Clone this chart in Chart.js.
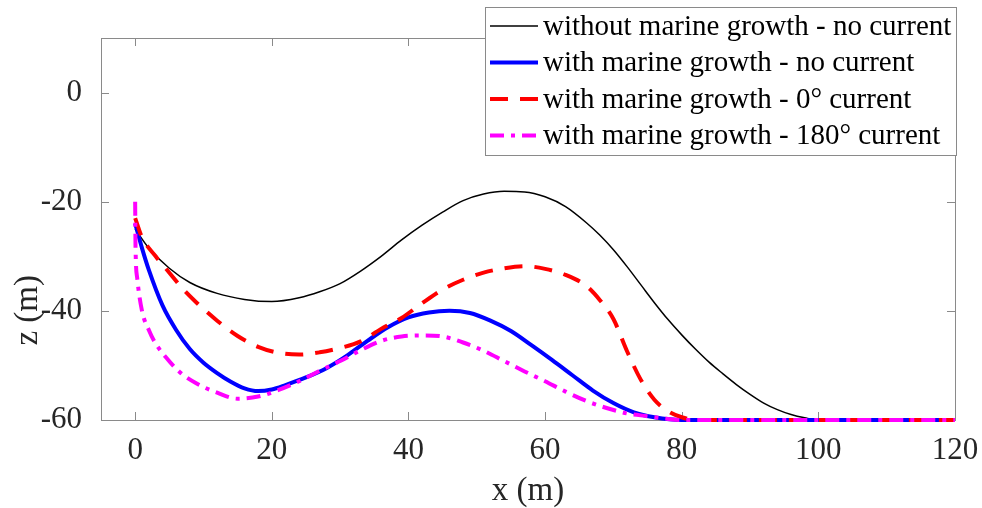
<!DOCTYPE html>
<html>
<head>
<meta charset="utf-8">
<script src="https://cdn.jsdelivr.net/npm/chart.js@4"></script>
<style>
  html, body { margin: 0; padding: 0; background: #fff; }
</style>
</head>
<body>
<canvas id="chart" width="982" height="508"></canvas>
<script>
// axis ticks
const xTicks = [0, 20, 40, 60, 80, 100, 120];
const zTicks = [-60, -40, -20, 0];

// without marine growth - no current
const noGrowthX = [0, 2, 5, 8, 12, 16, 20, 24, 27, 30, 33, 36, 39, 42, 45, 48, 51, 54, 57, 60, 63, 66, 68, 70, 72, 74, 76, 78, 80, 82, 84, 86, 88, 90, 92, 94, 96, 98, 100, 120];
const noGrowthZ = [-25, -28.5, -32.2, -34.8, -36.8, -37.9, -38.3, -37.6, -36.5, -35, -32.7, -30, -27, -24.3, -21.9, -19.8, -18.6, -18.1, -18.2, -19.1, -20.9, -23.8, -26.1, -28.8, -31.9, -35.2, -38.5, -41.6, -44.4, -47, -49.4, -51.5, -53.5, -55.3, -56.9, -58.1, -59, -59.6, -60, -60];

// with marine growth - no current
const growthX = [0, 1, 2, 4, 6, 8, 10, 12, 14, 16, 18, 20, 22, 25, 28, 31, 34, 37, 40, 43, 46, 49, 52, 55, 58, 61, 64, 67, 70, 73, 76, 80, 120];
const growthZ = [-24, -28.5, -32.5, -39, -43.5, -47, -49.5, -51.4, -53, -54.2, -54.7, -54.4, -53.6, -52.2, -50.5, -48.2, -45.5, -43, -41.2, -40.3, -40, -40.4, -41.8, -43.7, -46.3, -49, -51.8, -54.6, -56.9, -58.6, -59.5, -60, -60];

// with marine growth - 0 deg current
const current0X = [0, 1, 3, 5, 7, 9, 12, 15, 18, 21, 24, 27, 30, 33, 36, 39, 42, 45, 48, 51, 54, 57, 60, 63, 66, 68, 70, 72, 74, 76, 78, 80, 82, 120];
const current0Z = [-23, -26.5, -30, -33, -36, -38.5, -41.8, -44.6, -46.6, -47.7, -48, -47.6, -46.8, -45.6, -43.3, -41.3, -38.6, -36.1, -34.3, -33, -32.2, -31.8, -32.3, -33.4, -35.4, -38, -41.5, -47.4, -52.6, -56.3, -58.4, -59.5, -60, -60];

// with marine growth - 180 deg current
const current180X = [0, 0.05, 0.3, 1, 2, 3, 4.5, 6.5, 9, 12, 15, 18, 21, 24, 27, 30, 33, 36, 39, 42, 45, 48, 51, 54, 57, 60, 63, 66, 69, 72, 75, 78, 80, 120];
const current180Z = [-20, -28, -34, -40, -43.5, -46, -48.5, -51.2, -53.3, -55, -56.1, -55.7, -54.5, -52.9, -51, -49.2, -47.2, -45.5, -44.7, -44.5, -44.7, -45.8, -47.3, -49.2, -51.1, -52.9, -54.8, -56.5, -57.8, -58.8, -59.3, -59.8, -60, -60];

const zip = (xs, zs) => xs.map((x, i) => ({ x: x, y: zs[i] }));

const serif = '"Liberation Serif", "Times New Roman", serif';
const textColor = '#262626';
const boxColor = '#8a8a8a';

// MATLAB style box with inward ticks, plus the z label
const axesBox = {
    id: 'axesBox',
    beforeDatasetsDraw(chart) {
        const { ctx, chartArea: a, scales } = chart;
        ctx.save();
        ctx.strokeStyle = boxColor;
        ctx.lineWidth = 1;
        ctx.strokeRect(a.left + 0.5, a.top + 0.5, a.right - a.left, a.bottom - a.top);
        ctx.beginPath();
        xTicks.forEach(v => {
            const px = Math.round(scales.x.getPixelForValue(v)) + 0.5;
            ctx.moveTo(px, a.bottom); ctx.lineTo(px, a.bottom - 8);
            ctx.moveTo(px, a.top); ctx.lineTo(px, a.top + 8);
        });
        zTicks.forEach(v => {
            const py = Math.round(scales.y.getPixelForValue(v)) + 0.5;
            ctx.moveTo(a.left, py); ctx.lineTo(a.left + 8, py);
            ctx.moveTo(a.right, py); ctx.lineTo(a.right - 8, py);
        });
        ctx.stroke();

        // y axis title sits a bit below the middle in the original
        ctx.translate(28, scales.y.getPixelForValue(-30) + 54);
        ctx.rotate(-Math.PI / 2);
        ctx.font = '33px ' + serif;
        ctx.fillStyle = textColor;
        ctx.textAlign = 'center';
        ctx.textBaseline = 'middle';
        ctx.fillText('z (m)', 0, 0);
        ctx.restore();
    }
};

// legend box in the top right corner, drawn over the axes
const legendBox = {
    id: 'legendBox',
    afterDraw(chart) {
        const { ctx, chartArea: a } = chart;
        const sets = chart.data.datasets;
        const x0 = 485, y0 = 7, w = a.right + 1 - x0, h = 148;
        ctx.save();
        ctx.fillStyle = '#fff';
        ctx.fillRect(x0, y0, w, h);
        ctx.strokeStyle = boxColor;
        ctx.lineWidth = 1;
        ctx.strokeRect(x0 + 0.5, y0 + 0.5, w, h);
        ctx.font = '29px ' + serif;
        ctx.textBaseline = 'middle';
        ctx.fillStyle = '#000';
        sets.forEach((ds, i) => {
            const cy = 26 + i * 36.5;
            ctx.beginPath();
            ctx.strokeStyle = ds.borderColor;
            ctx.lineWidth = ds.borderWidth;
            ctx.setLineDash(ds.borderDash || []);
            ctx.moveTo(490, cy);
            ctx.lineTo(538, cy);
            ctx.stroke();
            ctx.setLineDash([]);
            ctx.fillText(ds.label, 543, cy + 1);
        });
        ctx.restore();
    }
};

const lineOpts = { showLine: true, pointRadius: 0, cubicInterpolationMode: 'monotone', fill: false, clip: false };

new Chart(document.getElementById('chart'), {
    type: 'scatter',
    data: {
        datasets: [
            { label: 'without marine growth - no current', data: zip(noGrowthX, noGrowthZ),
              borderColor: '#000000', borderWidth: 1.5, order: 4, ...lineOpts },
            { label: 'with marine growth - no current', data: zip(growthX, growthZ),
              borderColor: '#0000ff', borderWidth: 4, order: 3, ...lineOpts },
            { label: 'with marine growth - 0° current', data: zip(current0X, current0Z),
              borderColor: '#ff0000', borderWidth: 4, borderDash: [18, 12], order: 2, ...lineOpts },
            { label: 'with marine growth - 180° current', data: zip(current180X, current180Z),
              borderColor: '#ff00ff', borderWidth: 4, borderDash: [14, 7, 4, 7], order: 1, ...lineOpts }
        ]
    },
    options: {
        responsive: false,
        animation: false,
        layout: { padding: { top: 38, right: 27, left: 0, bottom: 0 } },
        plugins: { legend: { display: false }, tooltip: { enabled: false } },
        scales: {
            x: {
                type: 'linear', min: -5, max: 120,
                afterBuildTicks: s => { s.ticks = xTicks.map(v => ({ value: v })); },
                afterFit: s => { s.height = 88; s.paddingLeft = 0; s.paddingRight = 0; },
                grid: { display: false },
                border: { display: false },
                ticks: { color: textColor, padding: 4, maxRotation: 0, font: { family: serif, size: 31 } },
                title: { display: true, text: 'x (m)', color: textColor, padding: 0,
                         font: { family: serif, size: 33, lineHeight: 1 } }
            },
            y: {
                type: 'linear', min: -60, max: 10,
                afterBuildTicks: s => { s.ticks = zTicks.map(v => ({ value: v })); },
                afterFit: s => { s.width = 101; s.paddingTop = 0; s.paddingBottom = 0; },
                grid: { display: false },
                border: { display: false },
                ticks: { color: textColor, padding: 11, font: { family: serif, size: 31 } }
            }
        }
    },
    plugins: [axesBox, legendBox]
});
</script>
</body>
</html>
